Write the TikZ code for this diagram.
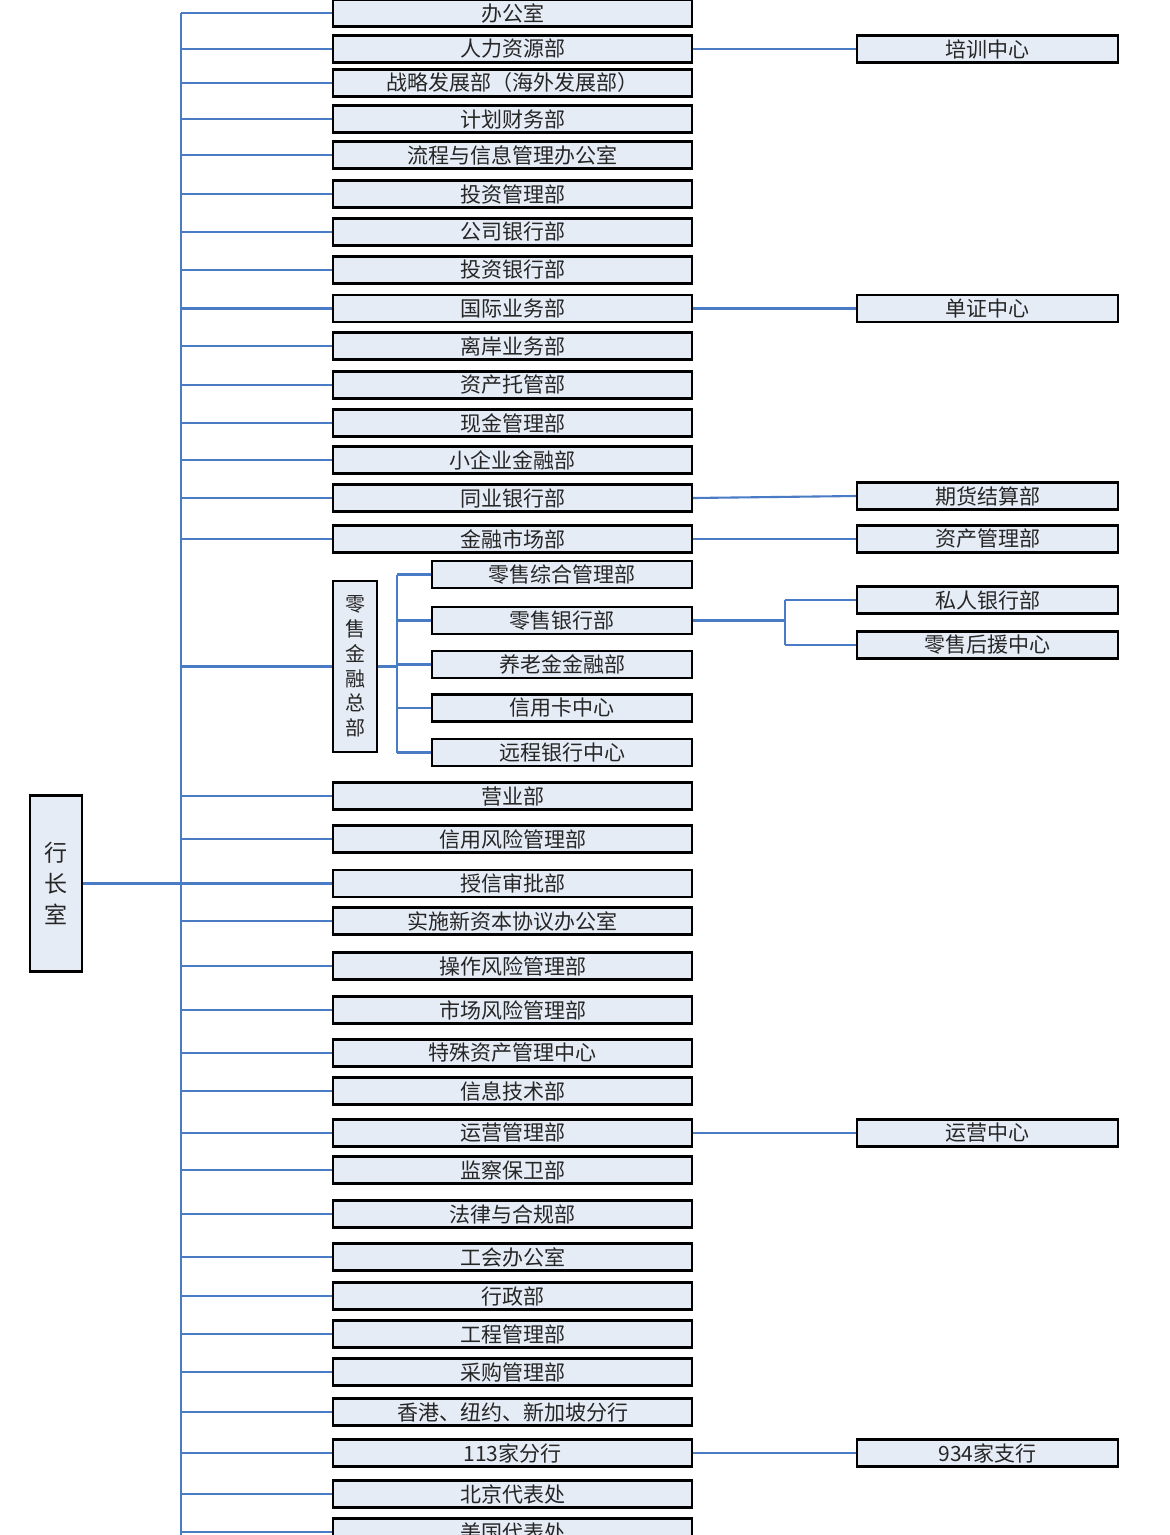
\documentclass[tikz,border=0pt]{standalone}
\usepackage{fontspec}
\newfontfamily\cjk{Noto Sans CJK SC}
\definecolor{boxfill}{HTML}{E6ECF6}
\definecolor{linkblue}{HTML}{4A7CC6}
\begin{document}
\begin{tikzpicture}[x=1pt,y=-1pt,
  basebox/.style={draw=black, line width=2.3pt, fill=boxfill, inner sep=0pt, text=black!85},
  midbox/.style={basebox, minimum width=359pt, minimum height=27pt, font=\cjk\fontsize{21}{21}\selectfont},
  subbox/.style={basebox, minimum width=260pt, minimum height=27pt, font=\cjk\fontsize{21}{21}\selectfont},
  rbox/.style={basebox, minimum width=261pt, minimum height=27pt, font=\cjk\fontsize{21}{21}\selectfont},
  link/.style={draw=linkblue, line width=2.1pt}]
\useasboundingbox (0,0) rectangle (1170,1535);
\clip (0,0) rectangle (1170,1535);
\fill[white] (0,0) rectangle (1170,1535);

% head office
\node[basebox, minimum width=52pt, minimum height=176pt, align=center,
      font=\cjk\fontsize{23}{31}\selectfont] (ceo) at (56,883.5) {行\\长\\室};

% middle column
\foreach \nm/\yy/\tx in {
  m1/13/办公室,
  m2/49/人力资源部,
  m3/83/战略发展部（海外发展部）,
  m4/119/计划财务部,
  m5/155/流程与信息管理办公室,
  m6/194/投资管理部,
  m7/232/公司银行部,
  m8/270/投资银行部,
  m9/308.5/国际业务部,
  m10/346/离岸业务部,
  m11/385/资产托管部,
  m12/423/现金管理部,
  m13/460/小企业金融部,
  m14/498/同业银行部,
  m15/539/金融市场部,
  m16/796/营业部,
  m17/839/信用风险管理部,
  m18/883.5/授信审批部,
  m19/921/实施新资本协议办公室,
  m20/966/操作风险管理部,
  m21/1010/市场风险管理部,
  m22/1053/特殊资产管理中心,
  m23/1091/信息技术部,
  m24/1133/运营管理部,
  m25/1170/监察保卫部,
  m26/1214/法律与合规部,
  m27/1257/工会办公室,
  m28/1296/行政部,
  m29/1334/工程管理部,
  m30/1372/采购管理部,
  m31/1412/香港、纽约、新加坡分行,
  m32/1453/113家分行,
  m33/1494/北京代表处,
  m34/1532/美国代表处}
  \node[midbox] (\nm) at (512.5,\yy) {\tx};

% retail group
\node[basebox, minimum width=44pt, minimum height=171pt, align=center,
      font=\cjk\fontsize{20}{24.8}\selectfont] (hq) at (355,666.5) {零\\售\\金\\融\\总\\部};
\foreach \nm/\yy/\tx in {
  s1/574.5/零售综合管理部,
  s2/620.5/零售银行部,
  s3/664.5/养老金金融部,
  s4/708/信用卡中心,
  s5/752.5/远程银行中心}
  \node[subbox] (\nm) at (562,\yy) {\tx};

% right column
\foreach \nm/\yy/\tx in {
  r1/49/培训中心,
  r2/308.5/单证中心,
  r3/496/期货结算部,
  r4/539/资产管理部,
  r5/600/私人银行部,
  r6/645/零售后援中心,
  r7/1133/运营中心,
  r8/1453/934家支行}
  \node[rbox] (\nm) at (987.5,\yy) {\tx};

% trunk
\coordinate (T) at (181,13);
\coordinate (B) at (181,1545);
\draw[link] (T) -- (B);
\draw[link] (ceo.east) -- (T |- ceo.east);
\foreach \nm in {m1,m2,m3,m4,m5,m6,m7,m8,m9,m10,m11,m12,m13,m14,m15,m16,m17,m18,m19,m20,m21,m22,m23,m24,m25,m26,m27,m28,m29,m30,m31,m32,m33,m34,hq}
  \draw[link] (T |- \nm.west) -- (\nm.west);

% retail bracket
\coordinate (I) at (397,574.5);
\draw[link] (I |- s1.west) -- (I |- s5.west);
\draw[link] (hq.east) -- (I |- hq.east);
\foreach \nm in {s1,s2,s3,s4,s5}
  \draw[link] (I |- \nm.west) -- (\nm.west);

% right links
\draw[link] (m2.east) -- (r1.west);
\draw[link] (m9.east) -- (r2.west);
\draw[link] (m14.east) -- (r3.west);
\draw[link] (m15.east) -- (r4.west);
\draw[link] (m24.east) -- (r7.west);
\draw[link] (m32.east) -- (r8.west);

% retail banking fork
\coordinate (F) at (785,620.5);
\draw[link] (s2.east) -- (F |- s2.east);
\draw[link] (F |- r5.west) -- (F |- r6.west);
\draw[link] (F |- r5.west) -- (r5.west);
\draw[link] (F |- r6.west) -- (r6.west);
\end{tikzpicture}
\end{document}
